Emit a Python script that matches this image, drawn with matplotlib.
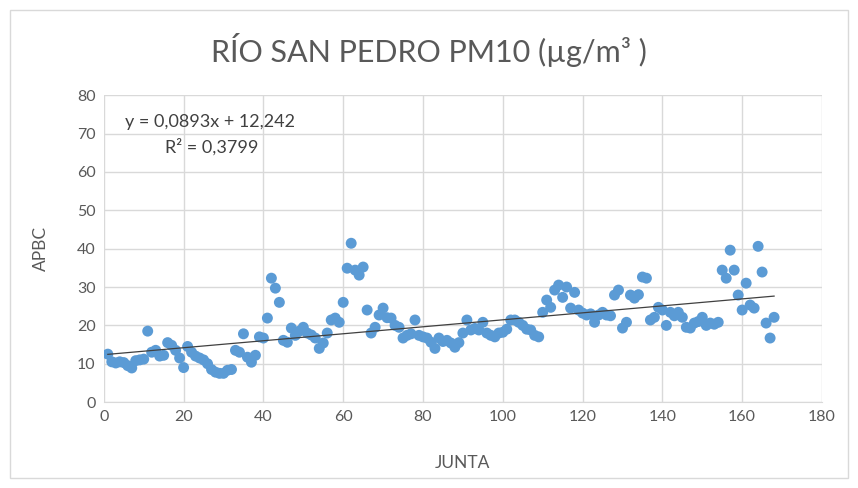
import numpy as np
import matplotlib
matplotlib.use("Agg")
import matplotlib.pyplot as plt
from matplotlib.patches import Rectangle

plt.rcParams['font.family'] = ['Lato', 'DejaVu Sans']

junta = list(range(1, 169))
apbc = [
    12.5, 10.5, 10.2, 10.5, 10.3, 9.5, 8.9, 10.8, 11.0, 11.2,
    18.5, 13.0, 13.5, 12.0, 12.2, 15.5, 14.8, 13.5, 11.5, 9.0,
    14.5, 13.0, 12.0, 11.5, 11.0, 10.0, 8.5, 7.8, 7.5, 7.5,
    8.3, 8.5, 13.5, 13.0, 17.8, 11.7, 10.4, 12.2, 17.0, 16.7,
    21.9, 32.3, 29.7, 26.0, 16.1, 15.6, 19.3, 17.4, 18.5, 19.5,
    18.0, 17.5, 16.7, 14.0, 15.4, 18.0, 21.4, 21.9, 20.8, 26.0,
    34.9, 41.4, 34.4, 33.1, 35.2, 24.0, 18.0, 19.5, 22.7, 24.5,
    22.0, 21.9, 20.0, 19.5, 16.7, 17.4, 17.8, 21.4, 17.4, 17.0,
    16.7, 15.6, 14.0, 16.7, 15.8, 16.1, 15.4, 14.3, 15.5, 18.0,
    21.4, 18.8, 19.2, 18.8, 20.8, 18.0, 17.4, 17.0, 18.0, 18.2,
    19.0, 21.4, 21.4, 20.8, 20.0, 19.0, 18.8, 17.4, 17.0, 23.4,
    26.6, 24.7, 29.2, 30.5, 27.3, 30.0, 24.5, 28.6, 24.0, 23.2,
    22.7, 23.0, 20.8, 22.7, 23.4, 22.7, 22.5, 27.9, 29.2, 19.3,
    20.8, 27.9, 27.1, 28.0, 32.6, 32.3, 21.4, 22.1, 24.7, 24.0,
    20.0, 23.4, 22.5, 23.4, 22.1, 19.5, 19.3, 20.6, 21.0, 22.1,
    20.0, 20.6, 20.3, 20.8, 34.4, 32.3, 39.6, 34.4, 27.9, 24.0,
    31.0, 25.3, 24.5, 40.6, 33.9, 20.6, 16.7, 22.1,
]
x_ticks = list(range(0, 181, 20))
y_ticks = list(range(0, 81, 10))
title = "RÍO SAN PEDRO PM10 (µg/m³ )"
eq_text = "y = 0,0893x + 12,242"
r2_text = "R² = 0,3799"

fig = plt.figure(figsize=(8.58, 4.88), dpi=100)
fig.patches.append(Rectangle((0.012, 0.02), 0.976, 0.96, transform=fig.transFigure,
                             fill=False, edgecolor='#d9d9d9', linewidth=1))
ax = fig.add_axes([0.121, 0.176, 0.837, 0.629])

ax.scatter(junta, apbc, s=62, color='#5B9BD5', edgecolors='none', zorder=3)

slope, intercept = np.polyfit(junta, apbc, 1)
xs = np.array([junta[0], junta[-1]])
ax.plot(xs, slope * xs + intercept, color='#404040', linewidth=0.9, zorder=4)

ax.set_xlim(0, 180)
ax.set_ylim(0, 80)
ax.set_xticks(x_ticks)
ax.set_yticks(y_ticks)
ax.grid(True, color='#d9d9d9', linewidth=1)
ax.set_axisbelow(True)
for s in ['top', 'right', 'left']:
    ax.spines[s].set_visible(False)
ax.spines['bottom'].set_color('#d9d9d9')
ax.tick_params(axis='both', length=0, colors='#595959', labelsize=11.5, pad=6)

ax.set_xlabel("JUNTA", color='#595959', fontsize=12.5, labelpad=22)
ax.set_ylabel("APBC", color='#595959', fontsize=12.5, labelpad=20)

fig.text(0.5, 0.897, title, ha='center', va='center', fontsize=22, color='#595959')

ax.text(0.029, 0.912, eq_text, transform=ax.transAxes, fontsize=13, color='#404040',
        ha='left', va='center')
ax.text(0.085, 0.83, r2_text, transform=ax.transAxes, fontsize=13, color='#404040',
        ha='left', va='center')

fig.savefig("out.png", dpi=100)
